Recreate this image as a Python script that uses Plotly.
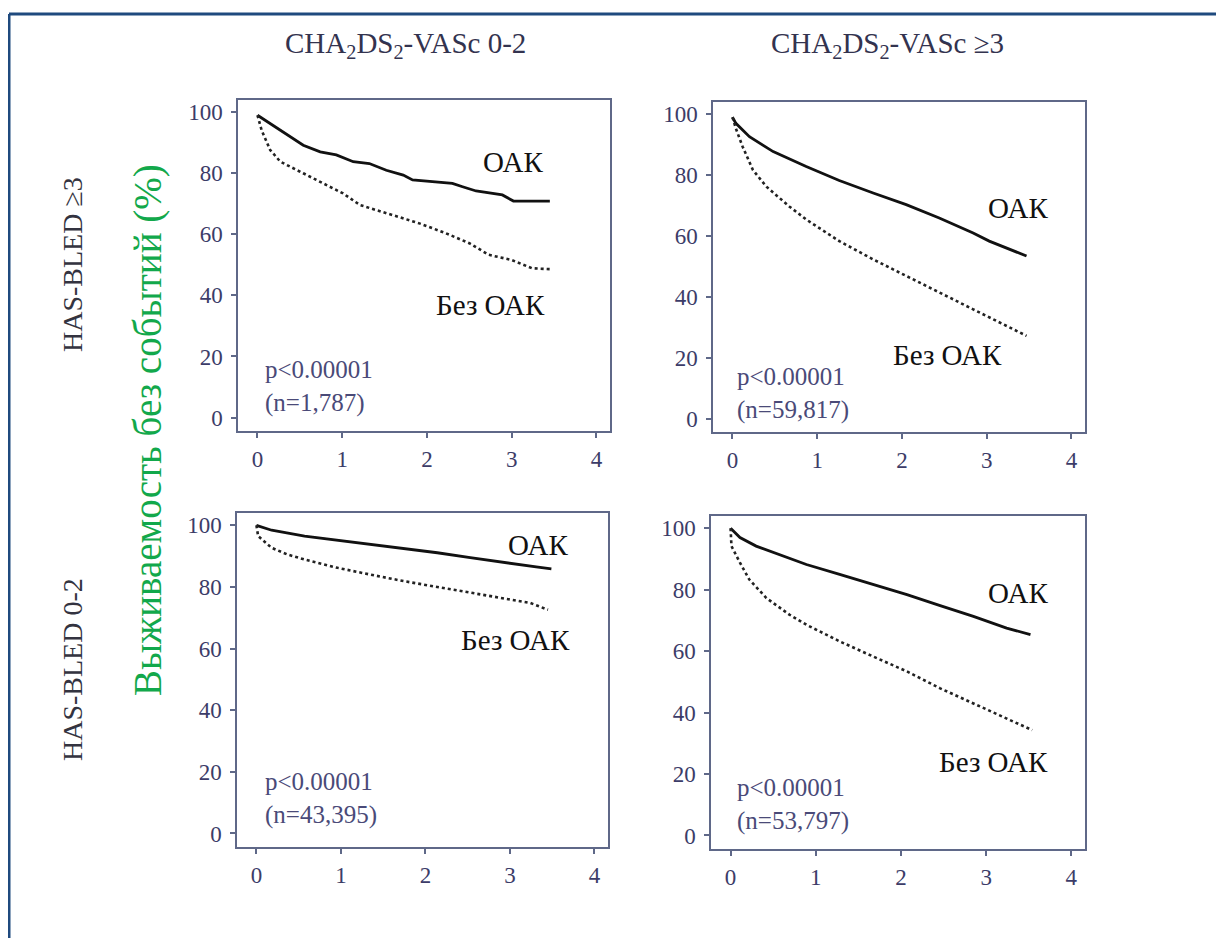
import plotly.graph_objects as go

# ---------------- data ----------------
col_titles = ["CHA<sub>2</sub>DS<sub>2</sub>-VASc 0-2", "CHA<sub>2</sub>DS<sub>2</sub>-VASc \u22653"]
row_titles = ["HAS-BLED \u22653", "HAS-BLED 0-2"]
y_title = "Выживаемость без событий (%)"
x_ticks = [0, 1, 2, 3, 4]
y_ticks = [0, 20, 40, 60, 80, 100]
label_oac = "ОАК"
label_no_oac = "Без ОАК"

# Panel A: HAS-BLED >=3, CHA2DS2-VASc 0-2
a_oac_x = [0, 0.15, 0.35, 0.54, 0.74, 0.93, 1.13, 1.32, 1.52, 1.72, 1.83, 2.1, 2.3, 2.42, 2.58, 2.89, 3.02, 3.45]
a_oac_y = [99, 96.3, 92.5, 89.2, 87, 86, 83.8, 83.2, 81, 79.4, 77.8, 77.2, 76.7, 75.6, 74.2, 72.9, 70.9, 70.9]
a_no_x = [0, 0.05, 0.15, 0.27, 0.54, 0.82, 1.01, 1.21, 1.52, 1.91, 2.22, 2.5, 2.73, 3.0, 3.24, 3.45]
a_no_y = [99, 94, 87.6, 83.8, 80, 76.1, 73.4, 69.6, 66.9, 63.6, 60.4, 57.1, 53.3, 51.6, 48.9, 48.6]
a_n = "(n=1,787)"

# Panel B: HAS-BLED >=3, CHA2DS2-VASc >=3
b_oac_x = [0, 0.04, 0.2, 0.48, 0.87, 1.26, 1.66, 2.05, 2.44, 2.84, 3.03, 3.23, 3.47]
b_oac_y = [99, 97, 92.6, 87.7, 82.8, 78.2, 74.1, 70.3, 65.9, 61, 58.3, 56.1, 53.4]
b_no_x = [0, 0.04, 0.12, 0.24, 0.4, 0.67, 0.87, 1.26, 1.66, 2.05, 2.44, 2.84, 3.23, 3.47]
b_no_y = [99, 95.3, 89.3, 81.7, 76.2, 69.7, 65.4, 58.3, 52.3, 46.8, 41.4, 35.9, 30.5, 27.2]
b_n = "(n=59,817)"

# Panel C: HAS-BLED 0-2, CHA2DS2-VASc 0-2
c_oac_x = [0, 0.18, 0.57, 0.96, 1.35, 1.74, 2.14, 2.53, 2.92, 3.31, 3.49]
c_oac_y = [100, 98.4, 96.5, 95.2, 93.8, 92.5, 91.1, 89.5, 87.9, 86.5, 85.9]
c_no_x = [0, 0.02, 0.18, 0.37, 0.57, 0.96, 1.35, 1.74, 2.14, 2.53, 2.92, 3.24, 3.45]
c_no_y = [100, 96.5, 92.7, 90.5, 88.9, 86.2, 84, 81.9, 80, 78.1, 76.4, 74.8, 72.6]
c_n = "(n=43,395)"

# Panel D: HAS-BLED 0-2, CHA2DS2-VASc >=3
d_oac_x = [0, 0.11, 0.3, 0.5, 0.89, 1.28, 1.67, 2.07, 2.46, 2.85, 3.24, 3.52]
d_oac_y = [100, 97, 94.2, 92.1, 88.2, 85, 81.7, 78.4, 74.8, 71.3, 67.5, 65.4]
d_no_x = [0, 0.01, 0.11, 0.22, 0.42, 0.69, 0.89, 1.28, 1.67, 2.07, 2.46, 2.85, 3.24, 3.54]
d_no_y = [100, 94.2, 88.8, 83.3, 77.3, 71.9, 68.6, 63.2, 58.3, 53.4, 47.9, 43, 38.1, 34.3]
d_n = "(n=53,797)"

p_text = "p<0.00001"

# ---------------- layout helpers ----------------
W, H, OFF = 1208, 930, 8


def px(X):
    return (X - OFF) / W


def py(Y):
    return 1 - (Y - OFF) / H


panels = [
    dict(oac=(a_oac_x, a_oac_y), no=(a_no_x, a_no_y), n=a_n, box=(238, 610, 100, 431),
         oac_lbl=(513, 162), no_lbl=(490, 305), p_pos=(263, 386)),
    dict(oac=(b_oac_x, b_oac_y), no=(b_no_x, b_no_y), n=b_n, box=(713, 1085, 102, 432),
         oac_lbl=(1018, 208), no_lbl=(947, 355), p_pos=(735, 393)),
    dict(oac=(c_oac_x, c_oac_y), no=(c_no_x, c_no_y), n=c_n, box=(237, 608, 513, 847),
         oac_lbl=(538, 545), no_lbl=(515, 640), p_pos=(263, 798)),
    dict(oac=(d_oac_x, d_oac_y), no=(d_no_x, d_no_y), n=d_n, box=(711, 1085, 516, 849),
         oac_lbl=(1018, 593), no_lbl=(993, 762), p_pos=(735, 804)),
]

AXIS_COL = "#5f6888"
TICK_COL = "#3c3c68"
SERIF = "Liberation Serif, Times New Roman, serif"

fig = go.Figure()
annotations = []
layout_axes = {}


def note(X, Y, text, size, color, xanchor="center", angle=0, align="center"):
    annotations.append(dict(x=px(X), y=py(Y), xref="paper", yref="paper", text=text, showarrow=False,
                            xanchor=xanchor, yanchor="middle", align=align, textangle=angle,
                            font=dict(family=SERIF, size=size, color=color)))


for i, p in enumerate(panels, start=1):
    xa = "x" if i == 1 else f"x{i}"
    ya = "y" if i == 1 else f"y{i}"
    fig.add_trace(go.Scatter(x=p["oac"][0], y=p["oac"][1], mode="lines", xaxis=xa, yaxis=ya,
                             line=dict(color="#111111", width=2.8), showlegend=False))
    fig.add_trace(go.Scatter(x=p["no"][0], y=p["no"][1], mode="lines", xaxis=xa, yaxis=ya,
                             line=dict(color="#222222", width=2.6, dash="dot"), showlegend=False))
    x0, x1, y0, y1 = p["box"]
    axis_common = dict(showline=True, linecolor=AXIS_COL, linewidth=1.5, mirror=True,
                       ticks="outside", ticklen=5, tickwidth=1.5, tickcolor=AXIS_COL,
                       showgrid=False, zeroline=False,
                       tickfont=dict(family=SERIF, size=23, color=TICK_COL), fixedrange=True)
    xkey = "xaxis" if i == 1 else f"xaxis{i}"
    ykey = "yaxis" if i == 1 else f"yaxis{i}"
    layout_axes[xkey] = dict(domain=[px(x0), px(x1)], range=[-0.23, 4.16], tickvals=x_ticks,
                             anchor=ya, ticklabelstandoff=2, **axis_common)
    layout_axes[ykey] = dict(domain=[py(y1), py(y0)], range=[-4.4, 104], tickvals=y_ticks,
                             anchor=xa, ticklabelstandoff=4, **axis_common)
    note(p["oac_lbl"][0], p["oac_lbl"][1], label_oac, 29, "#111111")
    note(p["no_lbl"][0], p["no_lbl"][1], label_no_oac, 29, "#111111")
    note(p["p_pos"][0], p["p_pos"][1], p_text + "<br>" + p["n"], 25, "#4a4a78",
         xanchor="left", align="left")

# column titles
for txt, X in zip(col_titles, [405, 888]):
    note(X, 45, txt, 29, "#33334f")
# row titles
for txt, Y in zip(row_titles, [265, 670]):
    note(72, Y, txt, 28, "#333340", angle=-90)
# green y title
note(148, 430, y_title, 39, "#12a84b", angle=-90)

shapes = [
    dict(type="line", xref="paper", yref="paper", x0=px(9), x1=px(1230), y0=py(14), y1=py(14),
         line=dict(color="#1f4a7e", width=3)),
    dict(type="line", xref="paper", yref="paper", x0=px(9), x1=px(9), y0=py(14), y1=py(960),
         line=dict(color="#1f4a7e", width=3)),
]

fig.update_layout(width=W, height=H, margin=dict(l=0, r=0, t=0, b=0), autosize=False,
                  paper_bgcolor="white", plot_bgcolor="white",
                  annotations=annotations, shapes=shapes, showlegend=False, **layout_axes)

fig.write_html("out.html", config=dict(displayModeBar=False))
